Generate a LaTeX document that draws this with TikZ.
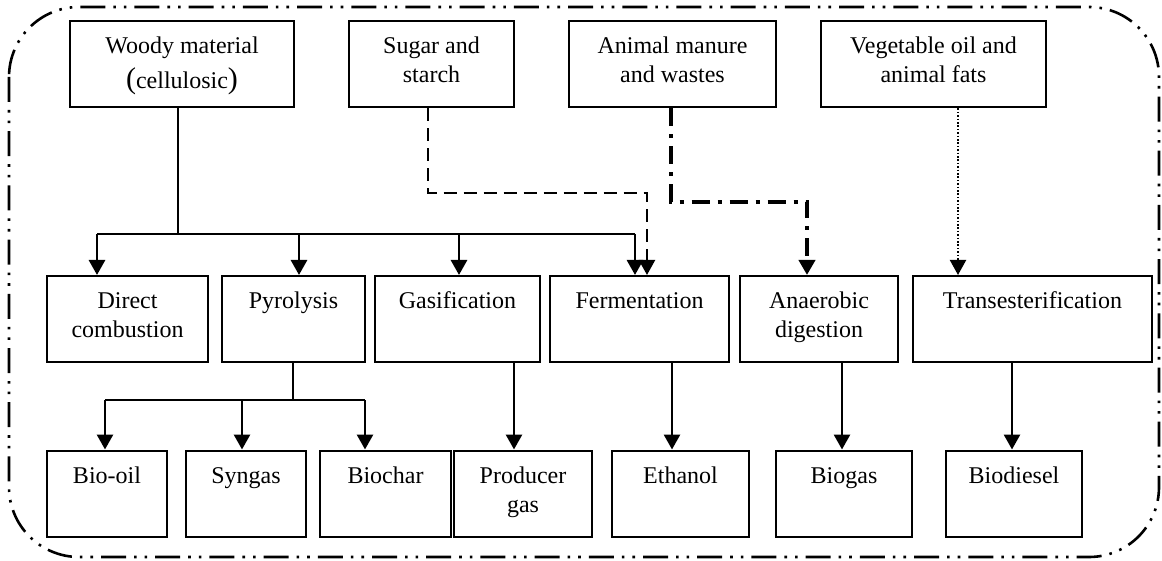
\documentclass[tikz,border=0pt]{standalone}
\usepackage{fontspec}
\setmainfont{Liberation Serif}
\usetikzlibrary{arrows.meta}
\begin{document}
\begin{tikzpicture}[x=1pt,y=-1pt,
  box/.style={draw, line width=2pt, inner sep=0pt, minimum height=86pt},
  lbl/.style={anchor=north, align=center, inner sep=0pt, yshift=-13pt,
    font=\fontsize{24}{29}\selectfont},
  conn/.style={line width=2.8pt},
  tip/.style={-{Triangle[length=15pt,width=16pt]}},
  arr/.style={line width=2.8pt, tip},
  sugarline/.style={line width=2.2pt, dash pattern=on 13pt off 7pt},
  manureline/.style={line width=4pt, dash pattern=on 18pt off 8pt on 4pt off 8pt},
  oilline/.style={line width=2pt, dash pattern=on 1.6pt off 1.8pt},
  borderline/.style={line width=2.6pt, rounded corners=70pt,
    dash pattern=on 25pt off 8pt on 2.6pt off 8pt on 2.6pt off 8pt}]
\useasboundingbox (0,0) rectangle (1162,561);
\draw[borderline] (9,7) rectangle (1159,557);

% top row
\node[box, minimum width=224pt] (woody) at (182,64.5) {};
\node[box, minimum width=165pt] (sugar) at (431.5,64.5) {};
\node[box, minimum width=207pt] (manure) at (672.5,64.5) {};
\node[box, minimum width=225pt] (oil) at (933.5,64.5) {};
\node[lbl] (woodyt) at (woody.north) {\strut Woody material\\[4pt]{\fontsize{30}{30}\selectfont(}cellulosic{\fontsize{30}{30}\selectfont)}};
\node[lbl] (sugart) at (sugar.north) {\strut Sugar and\\starch};
\node[lbl] (manuret) at (manure.north) {\strut Animal manure\\and wastes};
\node[lbl] (oilt) at (oil.north) {\strut Vegetable oil and\\animal fats};

% middle row
\node[box, minimum width=161pt] (direct) at (127.5,319) {};
\node[box, minimum width=143pt] (pyro) at (293.5,319) {};
\node[box, minimum width=165pt] (gasif) at (457.5,319) {};
\node[box, minimum width=179pt] (ferm) at (639.5,319) {};
\node[box, minimum width=158pt] (anaer) at (819,319) {};
\node[box, minimum width=239pt] (trans) at (1032.5,319) {};
\node[lbl] (directt) at (direct.north) {\strut Direct\\combustion};
\node[lbl] (pyrot) at (pyro.north) {\strut Pyrolysis};
\node[lbl] (gasift) at (gasif.north) {\strut Gasification};
\node[lbl] (fermt) at (ferm.north) {\strut Fermentation};
\node[lbl] (anaert) at (anaer.north) {\strut Anaerobic\\digestion};
\node[lbl] (transt) at (trans.north) {\strut Transesterification};

% bottom row
\node[box, minimum width=120pt] (biooil) at (107,493.5) {};
\node[box, minimum width=120pt] (syngas) at (246,493.5) {};
\node[box, minimum width=131pt] (biochar) at (385.5,493.5) {};
\node[box, minimum width=138pt] (producer) at (523,493.5) {};
\node[box, minimum width=137pt] (ethanol) at (680.5,493.5) {};
\node[box, minimum width=136pt] (biogas) at (844,493.5) {};
\node[box, minimum width=136pt] (biodiesel) at (1014,493.5) {};
\node[lbl] (biooilt) at (biooil.north) {\strut Bio-oil};
\node[lbl] (syngast) at (syngas.north) {\strut Syngas};
\node[lbl] (biochart) at (biochar.north) {\strut Biochar};
\node[lbl] (producert) at (producer.north) {\strut Producer\\gas};
\node[lbl] (ethanolt) at (ethanol.north) {\strut Ethanol};
\node[lbl] (biogast) at (biogas.north) {\strut Biogas};
\node[lbl] (biodieselt) at (biodiesel.north) {\strut Biodiesel};

% junction coordinates
\coordinate (wj) at (178,234);
\coordinate (xd) at (97,0);
\coordinate (xp) at (299,0);
\coordinate (xg) at (459,0);
\coordinate (xf) at (635,0);
\coordinate (pj) at (293,400);
\coordinate (xbo) at (105,0);
\coordinate (xsy) at (242,0);
\coordinate (xbc) at (365,0);
\coordinate (xs) at (428,193);
\coordinate (xs2) at (647,193);
\coordinate (xm) at (671,202);
\coordinate (xm2) at (807,202);
\coordinate (xo) at (958,0);
\coordinate (xpg) at (514,0);
\coordinate (xet) at (672,0);
\coordinate (xbg) at (842,0);
\coordinate (xbd) at (1012,0);

% woody connectors
\draw[conn] (woody.south -| wj) -- (wj);
\draw[conn] (xd |- wj) -- (xf |- wj);
\draw[arr] (xd |- wj) -- (xd |- direct.north);
\draw[arr] (xp |- wj) -- (xp |- pyro.north);
\draw[arr] (xg |- wj) -- (xg |- gasif.north);
\draw[arr] (xf |- wj) -- (xf |- ferm.north);

% sugar
\draw[sugarline, tip] (sugar.south -| xs) -- (xs) -- (xs2) -- (xs2 |- ferm.north);
% manure
\draw[manureline, tip] (manure.south -| xm) -- (xm) -- (xm2) -- (xm2 |- anaer.north);
% oil
\draw[oilline, tip] (oil.south -| xo) -- (xo |- trans.north);

% pyrolysis
\draw[conn] (pyro.south -| pj) -- (pj);
\draw[conn] (xbo |- pj) -- (xbc |- pj);
\draw[arr] (xbo |- pj) -- (xbo |- biooil.north);
\draw[arr] (xsy |- pj) -- (xsy |- syngas.north);
\draw[arr] (xbc |- pj) -- (xbc |- biochar.north);

% others
\draw[arr] (gasif.south -| xpg) -- (producer.north -| xpg);
\draw[arr] (ferm.south -| xet) -- (ethanol.north -| xet);
\draw[arr] (anaer.south -| xbg) -- (biogas.north -| xbg);
\draw[arr] (trans.south -| xbd) -- (biodiesel.north -| xbd);
\end{tikzpicture}
\end{document}
